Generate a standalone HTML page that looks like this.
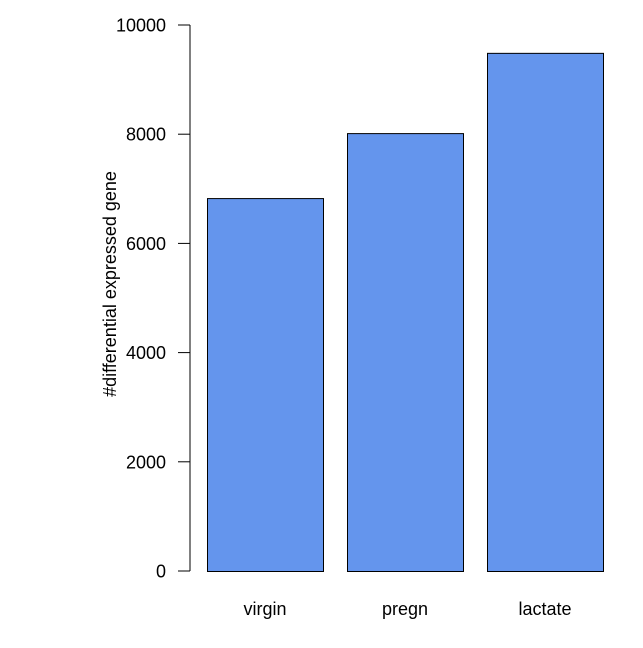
<!DOCTYPE html>
<html><head><meta charset="utf-8"><style>
html,body{margin:0;padding:0;background:#fff;}
svg text{font-family:"Liberation Sans",Arial,sans-serif;font-size:18px;fill:#000;}
</style></head><body>
<svg id="chart" width="643" height="643" viewBox="0 0 643 643" xmlns="http://www.w3.org/2000/svg"></svg>
<script>
const categories = ["virgin","pregn","lactate"];
const values = [6830, 8020, 9490];
const ticks = [0,2000,4000,6000,8000,10000];

const svg = document.getElementById('chart');
const NS = 'http://www.w3.org/2000/svg';
const y0 = 571, y1 = 25, yMax = 10000;
const y = v => y0 - (v / yMax) * (y0 - y1);
const barX = i => 207 + i * 140;
const barW = 116;
function mk(tag, attrs){ const e = document.createElementNS(NS, tag); for (const k in attrs) e.setAttribute(k, attrs[k]); svg.appendChild(e); return e; }

const axis = mk('line', {x1:190, x2:190, y1:y(0), y2:y(10000), stroke:'#000'});


ticks.forEach(t => {
  const tl = mk('line', {x1:178, x2:190, y1:y(t), y2:y(t), stroke:'#000'});
  
  
  const tx = mk('text', {x:166, y:y(t)+6.5, 'text-anchor':'end'});
  tx.textContent = t;
  
  
});
values.forEach((v, i) => {
  const r = mk('rect', {x:barX(i)+0.5, y:y(v)+0.5, width:barW, height:y(0)-y(v), fill:'#6495ED', stroke:'#000', 'stroke-width':1});
  
  
  const lb = mk('text', {x:barX(i)+barW/2, y:615, 'text-anchor':'middle'});
  lb.textContent = categories[i];
  
  
});
const title = mk('text', {x:0, y:0, 'text-anchor':'middle', transform:'translate(116,284) rotate(-90)'});
title.textContent = '#differential expressed gene';


</script>
</body></html>
